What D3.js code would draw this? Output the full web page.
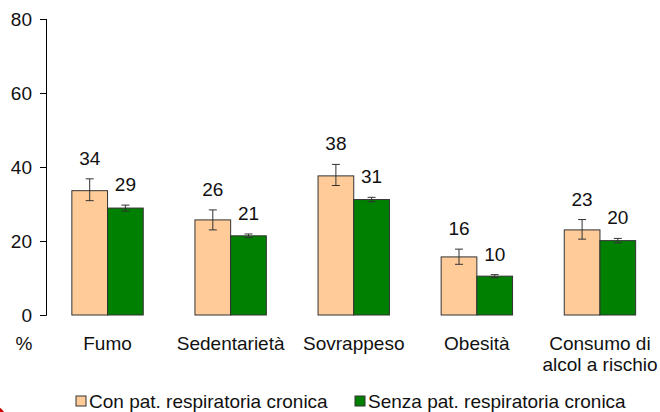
<html>
<meta charset="utf-8">
<style>
  body { margin: 0; background: #fff; }
  text { font-family: "Liberation Sans", Arial, sans-serif; fill: #111; }
</style>
<body>
<script src="https://d3js.org/d3.v7.min.js"></script>
<script>
// categories and series
var categories = ["Fumo", "Sedentarietà", "Sovrappeso", "Obesità", "Consumo di|alcol a rischio"];
var seriesNames = ["Con pat. respiratoria cronica", "Senza pat. respiratoria cronica"];
var conValues = [33.6, 25.7, 37.6, 15.7, 23.0];
var conLow    = [30.9, 23.0, 35.0, 13.7, 20.5];
var conHigh   = [36.8, 28.4, 40.7, 17.8, 25.8];
var senzaValues = [28.9, 21.4, 31.2, 10.5, 20.1];
var senzaLow    = [28.1, 20.9, 30.6, 10.1, 19.5];
var senzaHigh   = [29.7, 21.9, 31.8, 10.9, 20.7];
var conLabels   = ["34", "26", "38", "16", "23"];
var senzaLabels = ["29", "21", "31", "10", "20"];
var yTicks = [0, 20, 40, 60, 80];

var colors = ["#FFCC99", "#008000"];

var width = 660, height = 412;
var svg = d3.select("body").append("svg")
    .attr("width", width)
    .attr("height", height);

var yScale = d3.scaleLinear().domain([0, 80]).range([315, 19]);
var xScale = d3.scaleBand().domain(categories).range([46, 661.5]).paddingInner(0.42).paddingOuter(0.21);
var sub = d3.scaleBand().domain([0, 1]).range([0, xScale.bandwidth()]);

// build rows from arrays
var bars = [];
categories.forEach(function(c, i) {
    bars.push({cat: c, s: 0, v: conValues[i], lo: conLow[i], hi: conHigh[i], label: conLabels[i]});
    bars.push({cat: c, s: 1, v: senzaValues[i], lo: senzaLow[i], hi: senzaHigh[i], label: senzaLabels[i]});
});

// y axis
var yAxis = d3.axisLeft(yScale).tickValues(yTicks).tickSize(6).tickPadding(8);
var ga = svg.append("g").attr("transform", "translate(46,0)").call(yAxis);
ga.select(".domain").attr("stroke", "#000").attr("d", "M-6,315.5H0.5V19");
ga.selectAll(".tick line").attr("stroke", "#000");
ga.selectAll(".tick text").style("font-size", "19px").attr("fill", "#111")
    .attr("font-family", "Liberation Sans, Arial, sans-serif");

// bars
var cx = function(d) { return xScale(d.cat) + sub(d.s); };
svg.selectAll("rect.bar")
    .data(bars).enter()
    .append("rect")
    .attr("class", "bar")
    .attr("x", cx)
    .attr("y", function(d) { return yScale(d.v); })
    .attr("width", sub.bandwidth())
    .attr("height", function(d) { return yScale(0) - yScale(d.v); })
    .attr("fill", function(d) { return colors[d.s]; })
    .attr("stroke", "#333")
    .attr("stroke-width", 1);

// error bars
var eb = svg.selectAll("g.err").data(bars).enter().append("g")
    .attr("stroke", "#333").attr("stroke-width", 1);
eb.append("line")
    .attr("x1", function(d) { return cx(d) + sub.bandwidth() / 2; })
    .attr("x2", function(d) { return cx(d) + sub.bandwidth() / 2; })
    .attr("y1", function(d) { return yScale(d.lo); })
    .attr("y2", function(d) { return yScale(d.hi); });
["lo", "hi"].forEach(function(k) {
    eb.append("line")
        .attr("x1", function(d) { return cx(d) + sub.bandwidth() / 2 - 4; })
        .attr("x2", function(d) { return cx(d) + sub.bandwidth() / 2 + 4; })
        .attr("y1", function(d) { return yScale(d[k]); })
        .attr("y2", function(d) { return yScale(d[k]); });
});

// value labels
svg.selectAll("text.val").data(bars).enter()
    .append("text")
    .attr("class", "val")
    .attr("x", function(d) { return cx(d) + sub.bandwidth() / 2; })
    .attr("y", function(d) { return yScale(d.hi) - 14; })
    .attr("text-anchor", "middle")
    .style("font-size", "19px")
    .text(function(d) { return d.label; });

// category labels
svg.selectAll("text.cat").data(categories).enter()
    .append("text")
    .attr("class", "cat")
    .attr("x", function(d) { return xScale(d) + xScale.bandwidth() / 2; })
    .attr("y", 350)
    .attr("text-anchor", "middle")
    .style("font-size", "19px")
    .each(function(d) {
        var parts = d.split("|");
        var t = d3.select(this);
        parts.forEach(function(p, i) {
            t.append("tspan")
                .attr("x", xScale(d) + xScale.bandwidth() / 2)
                .attr("dy", i == 0 ? 0 : 21)
                .text(p);
        });
    });

svg.append("text")
    .attr("x", 24).attr("y", 350)
    .attr("text-anchor", "middle")
    .style("font-size", "19px")
    .text("%");

// legend
var legX = [76, 355];
var leg = svg.selectAll("g.leg").data(seriesNames).enter().append("g")
    .attr("transform", function(d, i) { return "translate(" + legX[i] + ",396)"; });
leg.append("rect")
    .attr("width", 10).attr("height", 10)
    .attr("fill", function(d, i) { return colors[i]; })
    .attr("stroke", "#333");
leg.append("text")
    .attr("x", 13).attr("y", 12)
    .style("font-size", "19px")
    .text(function(d) { return d; });

// cropped red mark in the corner
svg.append("circle")
    .attr("cx", -20).attr("cy", 430).attr("r", 30)
    .attr("fill", "#cc0000");
</script>
</body>
</html>
